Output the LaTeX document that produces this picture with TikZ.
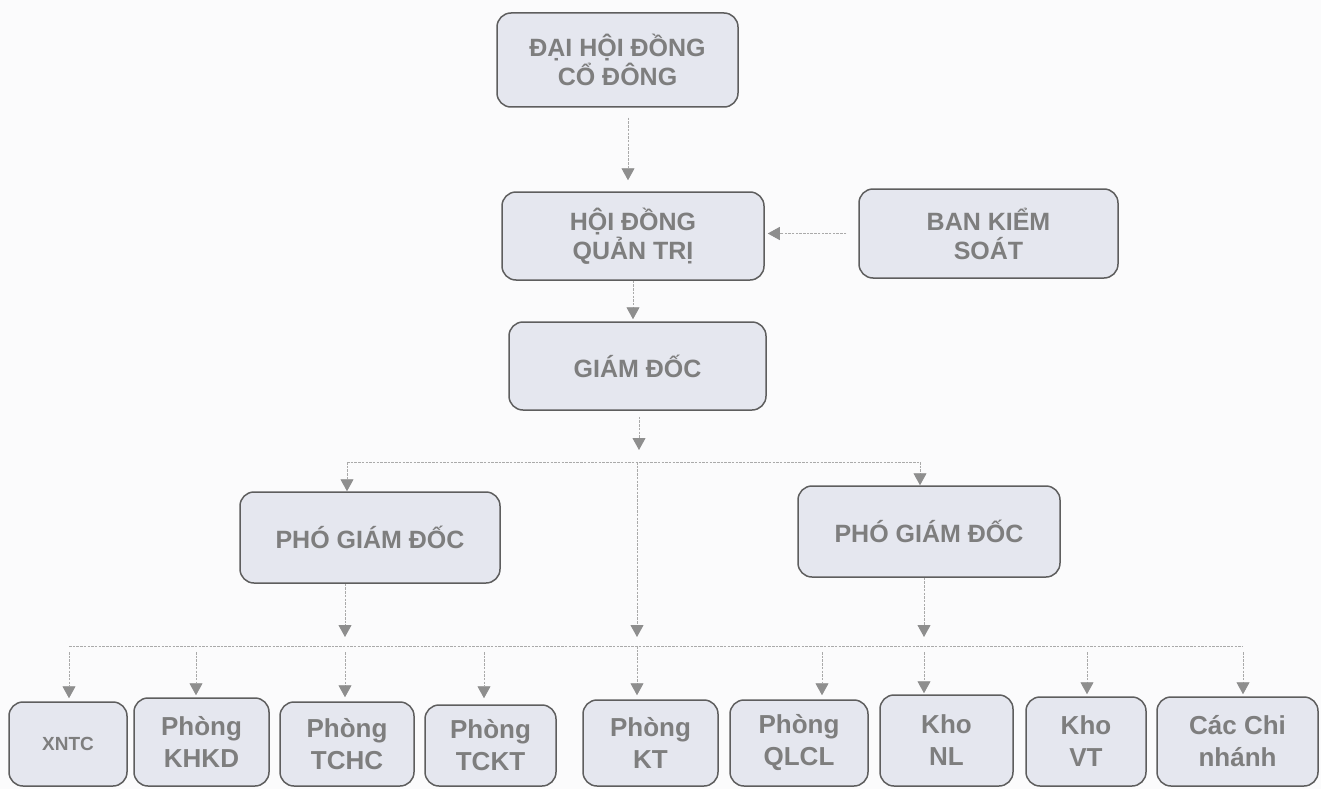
\documentclass[tikz,border=0pt]{standalone}
\usepackage{fontspec}
\setmainfont{Liberation Sans}
\usetikzlibrary{arrows.meta}
\definecolor{boxfill}{HTML}{E5E7EF}
\definecolor{boxline}{HTML}{5E5E5E}
\definecolor{txtgray}{HTML}{7E7E7E}
\definecolor{conngray}{HTML}{AAAAAA}
\definecolor{tipgray}{HTML}{8E8E8E}
\definecolor{bggray}{HTML}{FBFBFC}
\begin{document}
\begin{tikzpicture}[x=1pt,y=-1pt,
  box/.style={draw=boxline, line width=1.5pt, fill=boxfill, rounded corners=14pt,
    text=txtgray, align=center, inner sep=0pt},
  topbox/.style={box, font=\bfseries\fontsize{25}{29}\selectfont},
  lowbox/.style={box, font=\bfseries\fontsize{26}{32}\selectfont, minimum height=86pt},
  plainline/.style={draw=conngray, line width=0.9pt, dash pattern=on 2.5pt off 1.2pt},
  conn/.style={plainline, -{Triangle[width=13pt,length=12pt,color=tipgray]}}
]
\useasboundingbox (0,0) rectangle (1321,789);
\fill[bggray] (0,0) rectangle (1321,789);

% top levels
\node[topbox, minimum width=241pt, minimum height=94pt] (dh) at (617.5,60) {ĐẠI HỘI ĐỒNG\\CỔ ĐÔNG};
\node[topbox, minimum width=262pt, minimum height=88pt] (hd) at (633,236) {HỘI ĐỒNG\\QUẢN TRỊ};
\node[topbox, minimum width=259pt, minimum height=89pt] (bks) at (988.5,233.5) {BAN KIỂM\\SOÁT};
\node[topbox, minimum width=257pt, minimum height=88pt] (gd) at (637.5,366) {GIÁM ĐỐC};
\node[topbox, minimum width=260pt, minimum height=91pt] (pg1) at (370,537.5) {PHÓ GIÁM ĐỐC};
\node[topbox, minimum width=262pt, minimum height=91pt] (pg2) at (929,531.5) {PHÓ GIÁM ĐỐC};

% bottom row
\node[lowbox, minimum width=118pt, minimum height=84pt, font=\bfseries\fontsize{19}{23}\selectfont] (b1) at (68,744) {XNTC};
\node[lowbox, minimum width=135pt, minimum height=88pt] (b2) at (201.5,742) {Phòng\\KHKD};
\node[lowbox, minimum width=134pt, minimum height=84pt] (b3) at (347,744) {Phòng\\TCHC};
\node[lowbox, minimum width=131pt, minimum height=81pt] (b4) at (490.5,745.5) {Phòng\\TCKT};
\node[lowbox, minimum width=135pt] (b5) at (650.5,743) {Phòng\\KT};
\node[lowbox, minimum width=138pt] (b6) at (799,743) {Phòng\\QLCL};
\node[lowbox, minimum width=133pt, minimum height=91pt] (b7) at (946.5,740.5) {Kho\\NL};
\node[lowbox, minimum width=120pt, minimum height=89pt] (b8) at (1086,741.5) {Kho\\VT};
\node[lowbox, minimum width=161pt, minimum height=89pt] (b9) at (1237.5,741.5) {Các Chi\\nhánh};

% connectors upper part
\coordinate (c1) at (628,0);
\draw[conn, shorten <=10pt, shorten >=11pt] (c1 |- dh.south) -- (c1 |- hd.north);
\draw[conn, shorten >=2pt] (hd.south) -- (hd.south |- gd.north);
\draw[conn, shorten <=12pt, shorten >=3pt] (bks.west) -- (bks.west -| hd.east);

\coordinate (j1) at (639,462);
\draw[conn, shorten <=6pt, shorten >=12pt] (j1 |- gd.south) -- (j1);
\coordinate (jl) at (347,462);
\coordinate (jr) at (920,462);
\draw[plainline] (jl) -- (jr);
\draw[conn] (jl) -- (jl |- pg1.north);
\draw[conn] (jr) -- (jr |- pg2.north);

% second junction level
\coordinate (jc) at (637,462);
\coordinate (k) at (637,646);
\draw[conn, shorten >=9pt] (jc) -- (k);
\coordinate (p1) at (345,646);
\draw[conn, shorten >=9pt] (p1 |- pg1.south) -- (p1);
\coordinate (p2) at (924,646);
\draw[conn, shorten >=9pt] (p2 |- pg2.south) -- (p2);

\coordinate (hl) at (69,646);
\coordinate (hr) at (1243,646);
\draw[plainline] (hl) -- (hr);

% bottom drops
\coordinate (t1) at (69,646);
\coordinate (t2) at (196,646);
\coordinate (t3) at (345,646);
\coordinate (t4) at (484,646);
\coordinate (t5) at (637,646);
\coordinate (t6) at (822,646);
\coordinate (t7) at (924,646);
\coordinate (t8) at (1087,646);
\coordinate (t9) at (1243,646);
\draw[conn, shorten <=6pt, shorten >=3pt] (t1) -- (t1 |- b1.north);
\draw[conn, shorten <=6pt, shorten >=2pt] (t2) -- (t2 |- b2.north);
\draw[conn, shorten <=6pt, shorten >=4pt] (t3) -- (t3 |- b3.north);
\draw[conn, shorten <=6pt, shorten >=6pt] (t4) -- (t4 |- b4.north);
\draw[conn, shorten >=4pt] (t5) -- (t5 |- b5.north);
\draw[conn, shorten <=6pt, shorten >=4pt] (t6) -- (t6 |- b6.north);
\draw[conn, shorten <=6pt, shorten >=1pt] (t7) -- (t7 |- b7.north);
\draw[conn, shorten <=6pt, shorten >=2pt] (t8) -- (t8 |- b8.north);
\draw[conn, shorten <=6pt, shorten >=2pt] (t9) -- (t9 |- b9.north);
\end{tikzpicture}
\end{document}
